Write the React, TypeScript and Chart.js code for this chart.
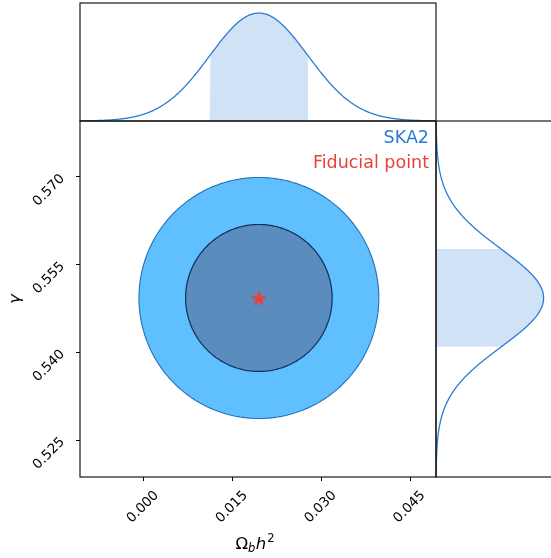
import React, { useEffect, useRef } from 'react';
import { Chart, registerables } from 'chart.js';
Chart.register(...registerables);

// ---- data ----
const X_MIN = -0.0108;
const X_MAX = 0.0493;
const Y_MIN = 0.5187;
const Y_MAX = 0.57955;
const X_TICKS = [0, 0.015, 0.03, 0.045];
const X_TICK_LABELS = ['0.000', '0.015', '0.030', '0.045'];
const Y_TICKS = [0.525, 0.54, 0.555, 0.57];
const Y_TICK_LABELS = ['0.525', '0.540', '0.555', '0.570'];
const FIDUCIAL_X = 0.0194;
const FIDUCIAL_Y = 0.5493;
const SIGMA_X = 0.00827;
const SIGMA_Y = 0.00835;
const OUTER_RADII = [0.02025, 0.0206]; // 2-sigma contour half-widths (x, y)
const INNER_RADII = [0.01237, 0.01256]; // 1-sigma contour half-widths (x, y)
const DENSITY_MAX = 1.093;
const SERIES_NAME = 'SKA2';
const FIDUCIAL_NAME = 'Fiducial point';
const X_TITLE = ['Ω', 'b', 'h', '2'];
const Y_TITLE = 'γ';

const FONT = '"DejaVu Sans", "Liberation Sans", sans-serif';
const BLUE = '#2b7bd6';
const BAND = '#cfe2f6';
const RED = '#e8413a';
const W = 551;
const H = 558;
const SMOOTH = 0.0001;

function gaussian(mu: number, sigma: number, lo: number, hi: number, n = 301) {
  const pts: { v: number; d: number }[] = [];
  for (let i = 0; i < n; i++) {
    const v = lo + ((hi - lo) * i) / (n - 1);
    pts.push({ v, d: Math.exp(-0.5 * ((v - mu) / sigma) ** 2) });
  }
  return pts;
}

function ellipse(cx: number, cy: number, rx: number, ry: number, n = 160) {
  const pts: { x: number; y: number }[] = [];
  for (let i = 0; i <= n; i++) {
    const t = (2 * Math.PI * i) / n;
    pts.push({ x: cx + rx * Math.cos(t), y: cy + ry * Math.sin(t) });
  }
  return pts;
}

function makeStar(size: number, color: string) {
  const c = document.createElement('canvas');
  c.width = size;
  c.height = size;
  const g = c.getContext('2d')!;
  const R = size / 2;
  const r = R * 0.42;
  g.beginPath();
  for (let i = 0; i < 10; i++) {
    const a = -Math.PI / 2 + (i * Math.PI) / 5;
    const rad = i % 2 === 0 ? R : r;
    const px = R + rad * Math.cos(a);
    const py = R + 0.8 + rad * Math.sin(a);
    if (i === 0) g.moveTo(px, py);
    else g.lineTo(px, py);
  }
  g.closePath();
  g.fillStyle = color;
  g.fill();
  return c;
}

function framePlugin() {
  return {
    id: 'frame',
    afterDraw(chart: any) {
      const { ctx, chartArea: a } = chart;
      ctx.save();
      ctx.strokeStyle = '#1a1a1a';
      ctx.lineWidth = 1.2;
      ctx.strokeRect(a.left, a.top, a.right - a.left, a.bottom - a.top);
      ctx.restore();
    },
  };
}

const mainLabels = {
  id: 'mainLabels',
  afterDraw(chart: any) {
    const { ctx, chartArea: a, scales } = chart;
    const xs = scales.x;
    const ys = scales.y;
    ctx.save();
    ctx.fillStyle = '#000';
    ctx.font = `13.5px ${FONT}`;
    ctx.textAlign = 'center';
    ctx.textBaseline = 'middle';
    X_TICKS.forEach((v, i) => {
      const px = xs.getPixelForValue(v);
      ctx.save();
      ctx.translate(px - 1, a.bottom + 30);
      ctx.rotate(-Math.PI / 4);
      ctx.fillText(X_TICK_LABELS[i], 0, 0);
      ctx.restore();
    });
    Y_TICKS.forEach((v, i) => {
      const py = ys.getPixelForValue(v);
      ctx.save();
      ctx.translate(a.left - 31, py + 13.5);
      ctx.rotate(-Math.PI / 4);
      ctx.fillText(Y_TICK_LABELS[i], 0, 0);
      ctx.restore();
    });

    // x title: Ω_b h^2
    const pieces = [
      { t: X_TITLE[0], f: `16.5px ${FONT}`, dy: 0, gap: 0 },
      { t: X_TITLE[1], f: `italic 11.5px ${FONT}`, dy: 3, gap: 0 },
      { t: X_TITLE[2], f: `italic 16.5px ${FONT}`, dy: 0, gap: 0.5 },
      { t: X_TITLE[3], f: `11.5px ${FONT}`, dy: -7, gap: 1 },
    ];
    ctx.textAlign = 'left';
    ctx.textBaseline = 'alphabetic';
    let total = 0;
    const widths = pieces.map((p) => {
      ctx.font = p.f;
      const w = ctx.measureText(p.t).width;
      total += w + p.gap;
      return w;
    });
    let cx = (a.left + a.right) / 2 - 3 - total / 2;
    pieces.forEach((p, i) => {
      ctx.font = p.f;
      cx += p.gap;
      ctx.fillText(p.t, cx, 549 + p.dy);
      cx += widths[i];
    });

    // y title
    ctx.save();
    ctx.translate(16, (a.top + a.bottom) / 2);
    ctx.rotate(-Math.PI / 2);
    ctx.font = `italic 16.5px ${FONT}`;
    ctx.textAlign = 'center';
    ctx.textBaseline = 'middle';
    ctx.fillText(Y_TITLE, 0, 0);
    ctx.restore();

    // legend texts
    ctx.font = `17.5px ${FONT}`;
    ctx.textAlign = 'right';
    ctx.textBaseline = 'alphabetic';
    ctx.fillStyle = BLUE;
    ctx.fillText(SERIES_NAME, a.right - 7, a.top + 21.5);
    ctx.fillStyle = RED;
    ctx.fillText(FIDUCIAL_NAME, a.right - 7, a.top + 47);
    ctx.restore();
  },
};

export default function App() {
  const mainRef = useRef<HTMLCanvasElement>(null);
  const topRef = useRef<HTMLCanvasElement>(null);
  const rightRef = useRef<HTMLCanvasElement>(null);

  useEffect(() => {
    const charts: Chart[] = [];
    const star = makeStar(17, RED);

    const hiddenTicks = { display: false };
    const tickGrid = { display: true, drawOnChartArea: false, drawTicks: true, tickLength: 4, color: '#000', lineWidth: 1 };

    // main joint plot
    charts.push(
      new Chart(mainRef.current!, {
        type: 'line',
        data: {
          datasets: [
            {
              data: [{ x: FIDUCIAL_X, y: FIDUCIAL_Y }],
              showLine: false,
              pointStyle: star as any,
              pointRadius: 8,
              borderWidth: 0,
            } as any,
            {
              data: ellipse(FIDUCIAL_X, FIDUCIAL_Y, INNER_RADII[0], INNER_RADII[1]),
              borderColor: '#0e2f5c',
              borderWidth: 1.2,
              backgroundColor: '#5a8cbd',
              fill: 'shape',
              pointRadius: 0,
              tension: SMOOTH,
            },
            {
              data: ellipse(FIDUCIAL_X, FIDUCIAL_Y, OUTER_RADII[0], OUTER_RADII[1]),
              borderColor: '#2272b6',
              borderWidth: 1.1,
              backgroundColor: '#60bfff',
              fill: 'shape',
              pointRadius: 0,
              tension: SMOOTH,
            },
          ],
        },
        options: {
          animation: false,
          responsive: false,
          events: [],
          layout: { padding: { left: 0, top: 121, right: 115, bottom: 0 } },
          plugins: { legend: { display: false }, tooltip: { enabled: false } },
          scales: {
            x: {
              type: 'linear',
              min: X_MIN,
              max: X_MAX,
              afterBuildTicks: (s: any) => { s.ticks = X_TICKS.map((v) => ({ value: v })); },
              afterFit: (s: any) => { s.height = 81; },
              ticks: hiddenTicks,
              grid: tickGrid,
              border: { display: false },
            },
            y: {
              type: 'linear',
              min: Y_MIN,
              max: Y_MAX,
              afterBuildTicks: (s: any) => { s.ticks = Y_TICKS.map((v) => ({ value: v })); },
              afterFit: (s: any) => { s.width = 80; },
              ticks: hiddenTicks,
              grid: tickGrid,
              border: { display: false },
            },
          },
        } as any,
        plugins: [framePlugin(), mainLabels],
      })
    );

    // top marginal
    const gx = gaussian(FIDUCIAL_X, SIGMA_X, X_MIN, X_MAX);
    const topCurve = gx.map((p) => ({ x: p.v, y: p.d }));
    const topBand = [
      { x: FIDUCIAL_X - SIGMA_X, y: 0 },
      ...gx.filter((p) => Math.abs(p.v - FIDUCIAL_X) <= SIGMA_X).map((p) => ({ x: p.v, y: p.d })),
      { x: FIDUCIAL_X + SIGMA_X, y: 0 },
    ];
    charts.push(
      new Chart(topRef.current!, {
        type: 'line',
        data: {
          datasets: [
            { data: topCurve, borderColor: BLUE, borderWidth: 1.3, pointRadius: 0, fill: false, tension: SMOOTH },
            { data: topBand, borderWidth: 0, borderColor: 'rgba(0,0,0,0)', backgroundColor: BAND, pointRadius: 0, fill: 'shape', tension: SMOOTH },
          ],
        },
        options: {
          animation: false,
          responsive: false,
          events: [],
          layout: { padding: { left: 80, top: 3, right: 115, bottom: H - 121 } },
          plugins: { legend: { display: false }, tooltip: { enabled: false } },
          scales: {
            x: { type: 'linear', min: X_MIN, max: X_MAX, display: false },
            y: { type: 'linear', min: 0, max: DENSITY_MAX, display: false },
          },
        } as any,
        plugins: [framePlugin()],
      })
    );

    // right marginal
    const gy = gaussian(FIDUCIAL_Y, SIGMA_Y, Y_MIN, Y_MAX);
    const rightCurve = gy.map((p) => ({ x: p.d, y: p.v }));
    const rightBand = [
      { x: 0, y: FIDUCIAL_Y - SIGMA_Y },
      ...gy.filter((p) => Math.abs(p.v - FIDUCIAL_Y) <= SIGMA_Y).map((p) => ({ x: p.d, y: p.v })),
      { x: 0, y: FIDUCIAL_Y + SIGMA_Y },
    ];
    charts.push(
      new Chart(rightRef.current!, {
        type: 'line',
        data: {
          datasets: [
            { data: rightCurve, borderColor: BLUE, borderWidth: 1.3, pointRadius: 0, fill: false, tension: SMOOTH },
            { data: rightBand, borderWidth: 0, borderColor: 'rgba(0,0,0,0)', backgroundColor: BAND, pointRadius: 0, fill: 'shape', tension: SMOOTH },
          ],
        },
        options: {
          animation: false,
          responsive: false,
          events: [],
          layout: { padding: { left: 436, top: 121, right: 6.4, bottom: 81 } },
          plugins: { legend: { display: false }, tooltip: { enabled: false } },
          scales: {
            x: { type: 'linear', min: 0, max: DENSITY_MAX, display: false },
            y: { type: 'linear', min: Y_MIN, max: Y_MAX, display: false },
          },
        } as any,
        plugins: [framePlugin()],
      })
    );

    return () => charts.forEach((c) => c.destroy());
  }, []);

  const abs: React.CSSProperties = { position: 'absolute', left: 0, top: 0 };
  return (
    <div style={{ position: 'absolute', left: 0, top: 0, width: W, height: H, overflow: 'hidden', background: '#fff' }}>
      <canvas ref={rightRef} width={560} height={H} style={{ ...abs, width: 560, height: H }} />
      <canvas ref={topRef} width={W} height={H} style={{ ...abs, width: W, height: H }} />
      <canvas ref={mainRef} width={W} height={H} style={{ ...abs, width: W, height: H }} />
    </div>
  );
}
